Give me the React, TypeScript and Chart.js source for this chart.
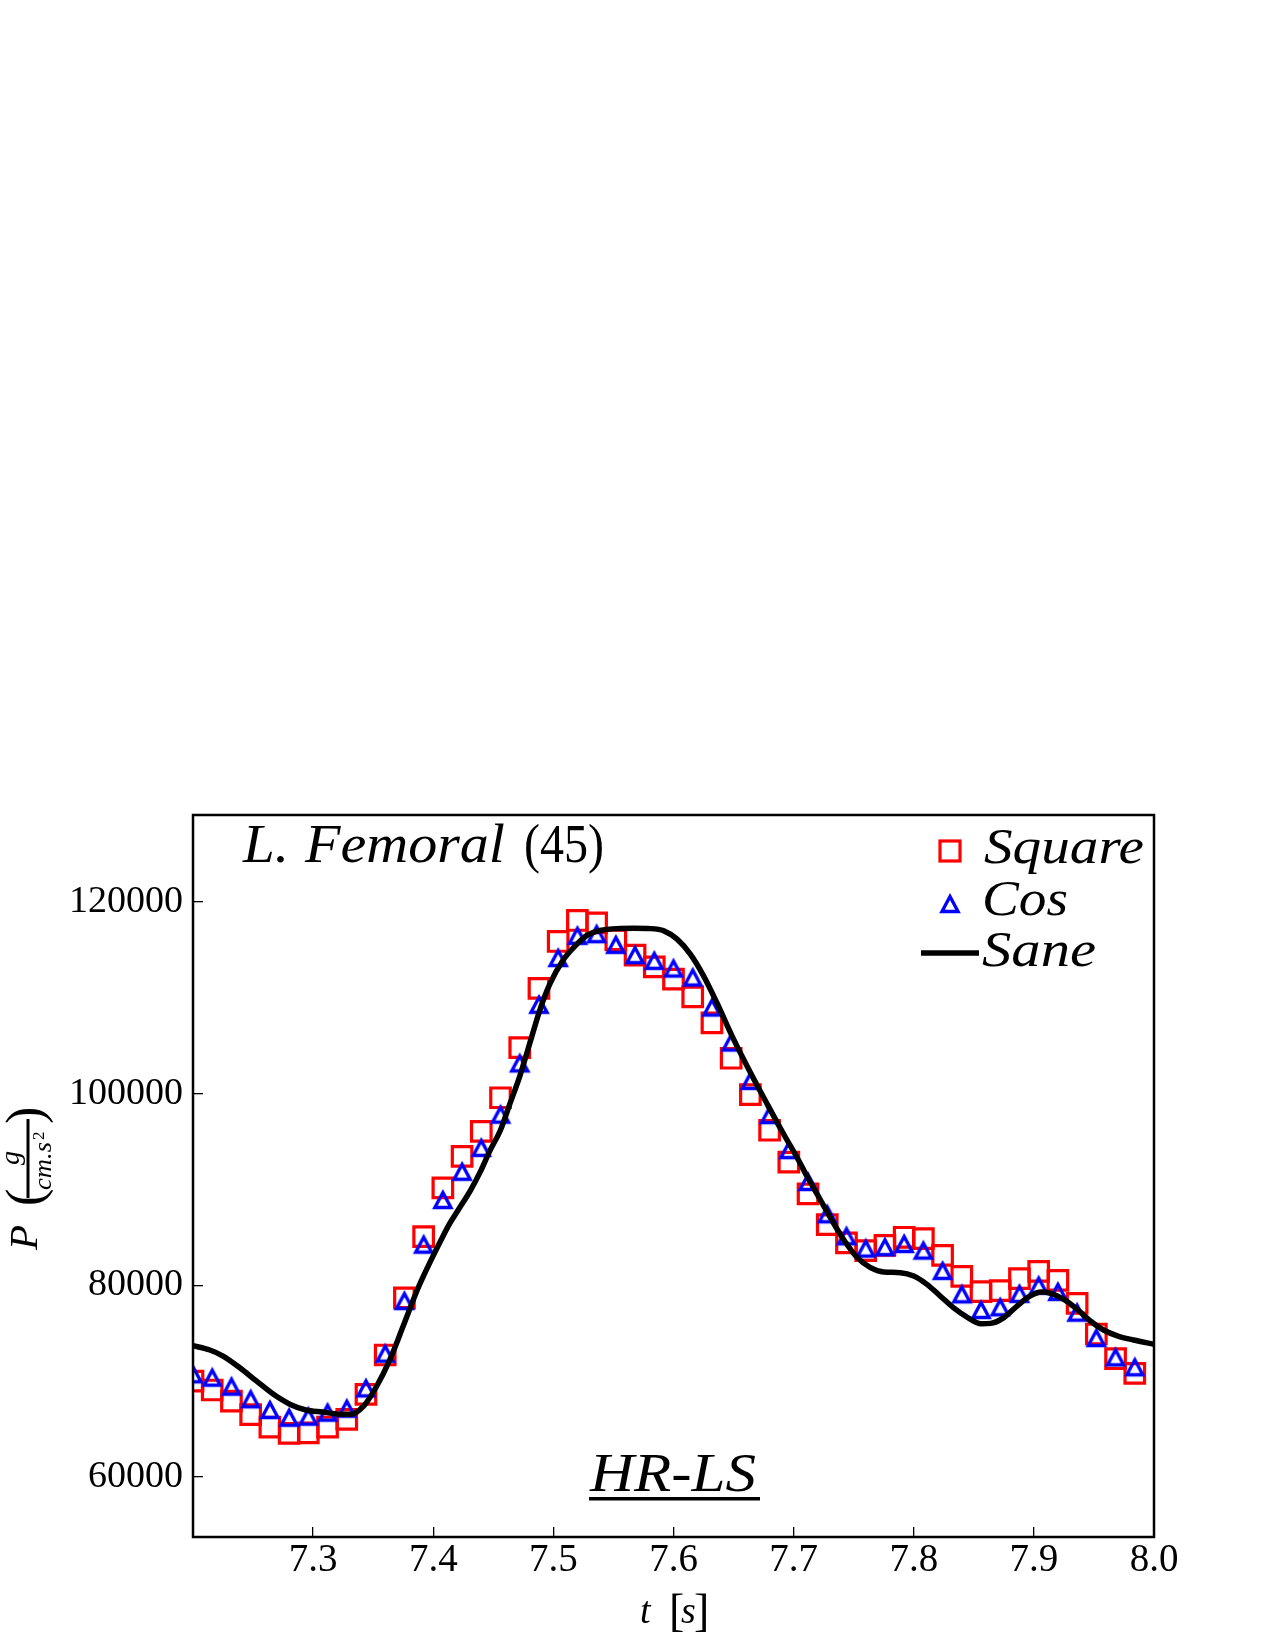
import React, { useEffect, useRef } from "react";
import { Chart, registerables } from "chart.js";

Chart.register(...registerables);

// Sample instants of the marker series (s)
const sampleTimes = [
  7.2, 7.216, 7.232, 7.248, 7.264, 7.28, 7.296, 7.312, 7.328, 7.344,
  7.36, 7.376, 7.392, 7.408, 7.424, 7.44, 7.456, 7.472, 7.488, 7.504,
  7.52, 7.536, 7.552, 7.568, 7.584, 7.6, 7.616, 7.632, 7.648, 7.664,
  7.68, 7.696, 7.712, 7.728, 7.744, 7.76, 7.776, 7.792, 7.808, 7.824,
  7.84, 7.856, 7.872, 7.888, 7.904, 7.92, 7.936, 7.952, 7.968, 7.984,
];

// Pressure, square-wave inflow (g/(cm.s^2))
const squareValues = [
  70000, 69080, 67930, 66510, 65220, 64560, 64600, 65220, 66020, 68630,
  72730, 78680, 85080, 90160, 93440, 96050, 99560, 104780, 110970, 115860,
  118050, 117800, 116030, 114430, 113210, 111930, 110080, 107370, 103680, 99890,
  96170, 92840, 89530, 86330, 84420, 83620, 84170, 85010, 84870, 83130,
  80940, 79340, 79440, 80700, 81460, 80520, 78120, 74920, 72350, 70820,
];

// Pressure, cosine inflow (g/(cm.s^2))
const cosValues = [
  70720, 70370, 69430, 68110, 66990, 66190, 66300, 66720, 67130, 69250,
  72870, 78360, 84240, 88900, 91840, 94330, 97800, 103140, 109260, 114130,
  116450, 116620, 115510, 114430, 113840, 113040, 112100, 108970, 105320, 101320,
  97750, 94100, 90780, 87410, 85110, 83830, 83970, 84310, 83620, 81500,
  79060, 77430, 77710, 79100, 79970, 79310, 77150, 74500, 72490, 71450,
];

// Reference solution curve
const saneTimes = [
  7.2, 7.214, 7.225, 7.239, 7.253, 7.267, 7.281, 7.294, 7.308, 7.322,
  7.331, 7.342, 7.353, 7.364, 7.375, 7.386, 7.392, 7.4, 7.408, 7.414,
  7.42, 7.431, 7.439, 7.447, 7.456, 7.464, 7.472, 7.481, 7.489, 7.497,
  7.508, 7.519, 7.528, 7.539, 7.553, 7.567, 7.581, 7.592, 7.603, 7.614,
  7.625, 7.636, 7.65, 7.664, 7.678, 7.692, 7.703, 7.711, 7.722, 7.736,
  7.742, 7.753, 7.764, 7.775, 7.789, 7.8, 7.811, 7.822, 7.833, 7.845,
  7.856, 7.864, 7.875, 7.886, 7.897, 7.906, 7.914, 7.925, 7.936, 7.947,
  7.958, 7.97, 7.983, 8.0,
];
const saneValues = [
  73700, 73250, 72620, 71400, 70000, 68630, 67580, 67000, 66780, 66560,
  66540, 67400, 69500, 72280, 75750, 79300, 81000, 83100, 85100, 86500,
  87700, 89900, 91800, 94000, 96200, 99000, 101800, 105500, 108800, 111400,
  113900, 115500, 116500, 117000, 117200, 117230, 117200, 116970, 116100, 114530,
  112270, 109490, 105670, 102190, 98900, 95700, 93300, 91400, 88970, 85900,
  84700, 82890, 81850, 81390, 81320, 80970, 80100, 78890, 77670, 76630,
  76000, 76030, 76630, 77840, 78890, 79300, 79170, 78540, 77500, 76280,
  75340, 74710, 74300, 73840,
];

const seriesNames = ["Square", "Cos", "Sane"];
const xTickValues = [7.3, 7.4, 7.5, 7.6, 7.7, 7.8, 7.9, 8.0];
const yTickValues = [60000, 80000, 100000, 120000];
const xRange = [7.2, 8.0];
const yRange = [53750, 129050];

const SERIF = "'Liberation Serif', 'Times New Roman', serif";
const RED = "#ff0000";
const BLUE = "#0000ff";

type Seg = { text: string; x: number; y: number; size: number; italic?: boolean; width?: number };

function drawSeg(ctx: CanvasRenderingContext2D, s: Seg) {
  ctx.save();
  ctx.font = `${s.italic ? "italic " : ""}${s.size}px ${SERIF}`;
  ctx.textAlign = "left";
  ctx.textBaseline = "alphabetic";
  const w = ctx.measureText(s.text).width;
  ctx.translate(s.x, s.y);
  if (s.width && w > 0) ctx.scale(s.width / w, 1);
  ctx.fillText(s.text, 0, 0);
  ctx.restore();
}

// Hollow upward triangle used as the marker of the cosine series
function makeTriangle(color: string): HTMLCanvasElement {
  const size = 34;
  const c = document.createElement("canvas");
  c.width = size;
  c.height = size;
  const g = c.getContext("2d")!;
  const w = 16;
  const h = 15;
  const m = size / 2;
  g.strokeStyle = color;
  g.lineWidth = 3.4;
  g.lineJoin = "miter";
  g.beginPath();
  g.moveTo(m, m - h / 2);
  g.lineTo(m + w / 2, m + h / 2);
  g.lineTo(m - w / 2, m + h / 2);
  g.closePath();
  g.stroke();
  return c;
}

const decorations = {
  id: "decorations",
  afterDraw(chart: any) {
    const ctx: CanvasRenderingContext2D = chart.ctx;
    const a = chart.chartArea;
    ctx.save();
    ctx.fillStyle = "#000";
    ctx.strokeStyle = "#000";

    // axes frame
    ctx.lineWidth = 2.5;
    ctx.strokeRect(a.left, a.top, a.right - a.left, a.bottom - a.top);

    // panel title
    drawSeg(ctx, { text: "L.", x: 243, y: 862, size: 54, italic: true, width: 46 });
    drawSeg(ctx, { text: "Femoral", x: 305, y: 862, size: 54, italic: true, width: 200 });
    drawSeg(ctx, { text: "(45)", x: 524, y: 862, size: 54, width: 80 });

    // case label
    drawSeg(ctx, { text: "HR-LS", x: 590, y: 1491, size: 54, italic: true, width: 166 });
    ctx.fillRect(589, 1497, 171, 3.5);

    // legend
    const ds = chart.data.datasets;
    ctx.save();
    ctx.strokeStyle = ds[2].borderColor;
    ctx.lineWidth = 3.2;
    ctx.lineJoin = "miter";
    ctx.strokeRect(950 - 10, 851 - 10, 20, 20);
    ctx.restore();
    const tri = ds[1].pointStyle as HTMLCanvasElement;
    ctx.drawImage(tri, 950 - tri.width / 2, 904 - tri.height / 2);
    ctx.save();
    ctx.strokeStyle = ds[0].borderColor;
    ctx.lineWidth = 5.5;
    ctx.beginPath();
    ctx.moveTo(921, 953);
    ctx.lineTo(979, 953);
    ctx.stroke();
    ctx.restore();
    drawSeg(ctx, { text: seriesNames[0], x: 984, y: 863, size: 51, italic: true, width: 160 });
    drawSeg(ctx, { text: seriesNames[1], x: 982, y: 915, size: 51, italic: true, width: 86 });
    drawSeg(ctx, { text: seriesNames[2], x: 982, y: 966, size: 51, italic: true, width: 114 });

    // x-axis title: t [s]
    drawSeg(ctx, { text: "t", x: 640, y: 1623, size: 38, italic: true });
    drawSeg(ctx, { text: "[", x: 669, y: 1626, size: 46 });
    drawSeg(ctx, { text: "s", x: 681, y: 1623, size: 38, italic: true });
    drawSeg(ctx, { text: "]", x: 694, y: 1626, size: 46 });

    // y-axis title: P (g / cm.s^2), written bottom to top
    ctx.save();
    ctx.rotate(-Math.PI / 2); // (u, v) -> screen (v, -u)
    drawSeg(ctx, { text: "P", x: -1250, y: 37, size: 41, italic: true });
    drawSeg(ctx, { text: "(", x: -1206, y: 42, size: 52 });
    drawSeg(ctx, { text: ")", x: -1124, y: 42, size: 52 });
    ctx.font = `italic 28px ${SERIF}`;
    ctx.textAlign = "center";
    ctx.fillText("g", -1158, 19);
    drawSeg(ctx, { text: "cm.s", x: -1190, y: 51, size: 26, italic: true, width: 48 });
    drawSeg(ctx, { text: "2", x: -1140, y: 44, size: 17 });
    ctx.restore();
    ctx.fillRect(26.5, 1119, 3, 79);

    ctx.restore();
  },
};

export default function App() {
  const canvasRef = useRef<HTMLCanvasElement | null>(null);

  useEffect(() => {
    const canvas = canvasRef.current;
    if (!canvas) return;
    const triangle = makeTriangle(BLUE);

    const chart = new Chart(canvas, {
      type: "scatter",
      data: {
        datasets: [
          {
            label: seriesNames[2],
            data: saneTimes.map((t, i) => ({ x: t, y: saneValues[i] })),
            showLine: true,
            borderColor: "#000000",
            borderWidth: 5.5,
            pointRadius: 0,
            cubicInterpolationMode: "monotone",
            clip: 0,
            order: 1,
          },
          {
            label: seriesNames[1],
            data: sampleTimes.map((t, i) => ({ x: t, y: cosValues[i] })),
            showLine: false,
            pointStyle: triangle,
            pointRadius: 10,
            borderColor: BLUE,
            clip: 0,
            order: 2,
          },
          {
            label: seriesNames[0],
            data: sampleTimes.map((t, i) => ({ x: t, y: squareValues[i] })),
            showLine: false,
            pointStyle: "rect",
            pointRadius: 13.8,
            borderWidth: 3.2,
            borderColor: RED,
            backgroundColor: "rgba(0,0,0,0)",
            clip: 0,
            order: 3,
          },
        ],
      },
      options: {
        animation: false,
        responsive: false,
        devicePixelRatio: 1,
        events: [],
        layout: { padding: { top: 815, right: 121, bottom: 0, left: 0 } },
        plugins: {
          legend: { display: false },
          tooltip: { enabled: false },
          title: { display: false },
        },
        scales: {
          x: {
            type: "linear",
            min: xRange[0],
            max: xRange[1],
            afterBuildTicks: (scale: any) => {
              scale.ticks = xTickValues.map((v) => ({ value: v }));
            },
            afterFit: (scale: any) => {
              scale.height = 113;
            },
            ticks: {
              callback: (v: any) => Number(v).toFixed(1),
              font: { family: SERIF, size: 39 },
              color: "#000",
              padding: 10,
              maxRotation: 0,
              autoSkip: false,
            },
            grid: {
              drawOnChartArea: false,
              drawTicks: true,
              tickLength: -10,
              color: "#000",
              lineWidth: 1.3,
            },
            border: { display: false },
          },
          y: {
            type: "linear",
            min: yRange[0],
            max: yRange[1],
            afterBuildTicks: (scale: any) => {
              scale.ticks = yTickValues.map((v) => ({ value: v }));
            },
            afterFit: (scale: any) => {
              scale.width = 193;
            },
            ticks: {
              callback: (v: any) => String(v),
              font: { family: SERIF, size: 38 },
              color: "#000",
              padding: 20,
              autoSkip: false,
            },
            grid: {
              drawOnChartArea: false,
              drawTicks: true,
              tickLength: -10,
              color: "#000",
              lineWidth: 1.3,
            },
            border: { display: false },
          },
        },
      } as any,
      plugins: [decorations],
    });

    return () => chart.destroy();
  }, []);

  return (
    <div style={{ position: "absolute", left: 0, top: 0, width: 1275, height: 1650, background: "#fff" }}>
      <canvas ref={canvasRef} width={1275} height={1650} style={{ display: "block" }} />
    </div>
  );
}
